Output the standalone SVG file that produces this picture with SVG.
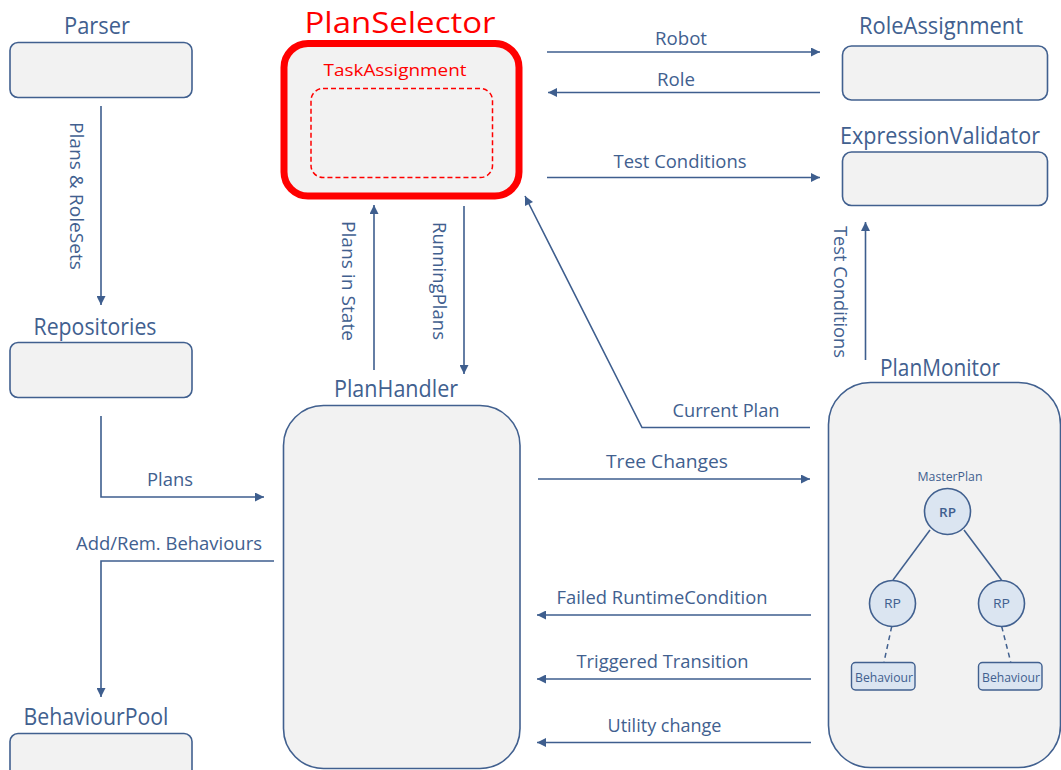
<svg xmlns="http://www.w3.org/2000/svg" width="1061" height="770" viewBox="0 0 1061 770">
<defs>
<marker id="ah" viewBox="0 0 10 10" refX="10" refY="5" markerWidth="11" markerHeight="9" markerUnits="userSpaceOnUse" orient="auto">
<path d="M0,0 L10,5 L0,10 z" fill="#3e5e8e"/>
</marker>
<style>
text{font-family:"Open Sans","Liberation Sans",sans-serif;fill:#41608f;text-anchor:middle}
.title{font-size:24px}
.lbl{font-size:19px}
.box{fill:#f2f2f2;stroke:#41608f;stroke-width:1.6}
.conn{fill:none;stroke:#3e5e8e;stroke-width:1.6;marker-end:url(#ah)}
.tree{fill:none;stroke:#41608f;stroke-width:1.5}
.circ{fill:#dbe5f1;stroke:#41608f;stroke-width:1.6}
.beh{fill:#dbe5f1;stroke:#41608f;stroke-width:1.4}
.small{font-size:12px}
</style>
</defs>
<rect width="1061" height="770" fill="#ffffff"/>

<g id="parser">
<text class="title" x="97" y="34" textLength="66" lengthAdjust="spacingAndGlyphs">Parser</text>
<rect class="box" x="10" y="42.5" width="182" height="55" rx="8"/>
</g>
<g id="repositories">
<text class="title" x="95" y="335" textLength="123" lengthAdjust="spacingAndGlyphs">Repositories</text>
<rect class="box" x="10" y="342.5" width="182" height="55" rx="8"/>
</g>
<g id="behaviourpool">
<text class="title" x="96" y="725" textLength="145" lengthAdjust="spacingAndGlyphs">BehaviourPool</text>
<rect class="box" x="10" y="733.5" width="182" height="55" rx="8"/>
</g>

<g id="planselector">
<text x="400" y="33" font-size="30" style="fill:#ff0000" textLength="191" lengthAdjust="spacingAndGlyphs">PlanSelector</text>
<rect x="284" y="43.5" width="235" height="152.5" rx="24" fill="#f2f2f2" stroke="#ff0000" stroke-width="7"/>
<text x="395" y="76" font-size="17" style="fill:#ff0000" textLength="143" lengthAdjust="spacingAndGlyphs">TaskAssignment</text>
<rect x="311" y="88.5" width="181.5" height="89" rx="12" fill="none" stroke="#ff0000" stroke-width="1.5" stroke-dasharray="5,3"/>
</g>

<g id="planhandler">
<text class="title" x="396" y="397" textLength="124" lengthAdjust="spacingAndGlyphs">PlanHandler</text>
<rect class="box" x="283.5" y="405.5" width="236.5" height="363" rx="40"/>
</g>

<g id="roleassignment">
<text class="title" x="941" y="34" textLength="164" lengthAdjust="spacingAndGlyphs">RoleAssignment</text>
<rect class="box" x="842.5" y="46" width="205" height="54" rx="9"/>
</g>
<g id="expressionvalidator">
<text class="title" x="940" y="144" textLength="200" lengthAdjust="spacingAndGlyphs">ExpressionValidator</text>
<rect class="box" x="842.5" y="152" width="205" height="53.5" rx="9"/>
</g>

<g id="planmonitor">
<text class="title" x="940" y="376" textLength="120" lengthAdjust="spacingAndGlyphs">PlanMonitor</text>
<rect class="box" x="828.5" y="382.5" width="232" height="385" rx="42"/>
<text class="small" x="950" y="481" textLength="65" lengthAdjust="spacingAndGlyphs">MasterPlan</text>
<line class="tree" x1="930" y1="530" x2="893" y2="580"/>
<line class="tree" x1="964" y1="530" x2="1001.5" y2="580"/>
<line class="tree" x1="891.7" y1="626.5" x2="884" y2="662" stroke-dasharray="5,4"/>
<line class="tree" x1="1001.7" y1="626.5" x2="1010.7" y2="662" stroke-dasharray="5,4"/>
<circle class="circ" cx="947.5" cy="511.5" r="23"/>
<text x="947.5" y="517" font-size="13" font-weight="600" textLength="17" lengthAdjust="spacingAndGlyphs">RP</text>
<circle class="circ" cx="892.5" cy="603.5" r="23"/>
<text x="892.5" y="608" font-size="13" textLength="17" lengthAdjust="spacingAndGlyphs">RP</text>
<circle class="circ" cx="1001.5" cy="603.5" r="23"/>
<text x="1001.5" y="608" font-size="13" textLength="17" lengthAdjust="spacingAndGlyphs">RP</text>
<rect class="beh" x="851.5" y="662.5" width="63.5" height="27.5" rx="4"/>
<text x="884" y="682" font-size="12" textLength="58" lengthAdjust="spacingAndGlyphs">Behaviour</text>
<rect class="beh" x="978.5" y="662.5" width="63.5" height="27.5" rx="4"/>
<text x="1011" y="682" font-size="12" textLength="58" lengthAdjust="spacingAndGlyphs">Behaviour</text>
</g>

<g id="connectors">
<line class="conn" x1="101" y1="106" x2="101" y2="305"/>
<text class="lbl" transform="translate(76,196) rotate(90)" x="0" y="6" textLength="148" lengthAdjust="spacingAndGlyphs">Plans &amp; RoleSets</text>

<polyline class="conn" points="101,416 101,497 264,497"/>
<text class="lbl" x="170" y="486" textLength="46" lengthAdjust="spacingAndGlyphs">Plans</text>

<polyline class="conn" points="274,561 101,561 101,697"/>
<text class="lbl" x="169" y="550" textLength="186" lengthAdjust="spacingAndGlyphs">Add/Rem. Behaviours</text>

<line class="conn" x1="374" y1="370" x2="374" y2="205"/>
<text class="lbl" transform="translate(348,281) rotate(90)" x="0" y="6" textLength="120" lengthAdjust="spacingAndGlyphs">Plans in State</text>

<line class="conn" x1="464" y1="206" x2="464" y2="374"/>
<text class="lbl" transform="translate(439,281) rotate(90)" x="0" y="6" textLength="118" lengthAdjust="spacingAndGlyphs">RunningPlans</text>

<line class="conn" x1="547" y1="52" x2="820" y2="52"/>
<text class="lbl" x="681" y="45" textLength="52" lengthAdjust="spacingAndGlyphs">Robot</text>

<line class="conn" x1="820" y1="92.5" x2="548" y2="92.5"/>
<text class="lbl" x="676" y="86" textLength="38" lengthAdjust="spacingAndGlyphs">Role</text>

<line class="conn" x1="547" y1="177.5" x2="820" y2="177.5"/>
<text class="lbl" x="680" y="168" textLength="133" lengthAdjust="spacingAndGlyphs">Test Conditions</text>

<line class="conn" x1="865.5" y1="360" x2="865.5" y2="222"/>
<text class="lbl" transform="translate(840,292) rotate(90)" x="0" y="6" textLength="132" lengthAdjust="spacingAndGlyphs">Test Conditions</text>

<polyline class="conn" points="810,427.5 642,427.5 525,196"/>
<text class="lbl" x="726" y="417" textLength="107" lengthAdjust="spacingAndGlyphs">Current Plan</text>

<line class="conn" x1="538" y1="479" x2="810" y2="479"/>
<text class="lbl" x="667" y="468" textLength="122" lengthAdjust="spacingAndGlyphs">Tree Changes</text>

<line class="conn" x1="811" y1="615" x2="537" y2="615"/>
<text class="lbl" x="662" y="604" textLength="211" lengthAdjust="spacingAndGlyphs">Failed RuntimeCondition</text>

<line class="conn" x1="811" y1="679" x2="537" y2="679"/>
<text class="lbl" x="662.5" y="668" textLength="172" lengthAdjust="spacingAndGlyphs">Triggered Transition</text>

<line class="conn" x1="811" y1="742.5" x2="537" y2="742.5"/>
<text class="lbl" x="664.5" y="732" textLength="114" lengthAdjust="spacingAndGlyphs">Utility change</text>
</g>
</svg>
